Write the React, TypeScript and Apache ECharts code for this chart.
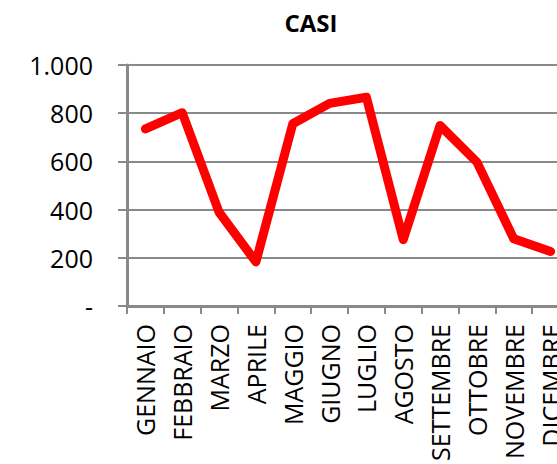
import React, { useEffect, useRef } from "react";
import * as echarts from "echarts";

const categories = [
  "GENNAIO", "FEBBRAIO", "MARZO", "APRILE", "MAGGIO", "GIUGNO",
  "LUGLIO", "AGOSTO", "SETTEMBRE", "OTTOBRE", "NOVEMBRE", "DICEMBRE",
];
const casi = [735, 802, 389, 183, 756, 841, 866, 275, 749, 597, 279, 226];
const yTicks = [0, 200, 400, 600, 800, 1000];
const yTickLabels = ["-", "200", "400", "600", "800", "1.000"];

export default function App() {
  const ref = useRef<HTMLDivElement>(null);
  useEffect(() => {
    document.body.style.margin = "0";
    const chart = echarts.init(ref.current!, null, { renderer: "svg" });
    const font = "'Open Sans', sans-serif";
    chart.setOption({
      animation: false,
      backgroundColor: "#ffffff",
      title: {
        text: "CASI",
        left: 311,
        textAlign: "center",
        top: 10,
        padding: 0,
        textStyle: { fontFamily: font, fontWeight: "bold", fontSize: 24, color: "#000" },
      },
      grid: {
        left: 127, top: 65, width: 442, height: 241,
        containLabel: false, outerBoundsMode: "none",
      },
      xAxis: {
        type: "category",
        data: categories,
        boundaryGap: true,
        axisLine: { lineStyle: { color: "#898989", width: 3 } },
        axisTick: { show: true, alignWithLabel: false, length: 8, lineStyle: { color: "#898989", width: 2 } },
        axisLabel: {
          rotate: 90,
          interval: 0,
          margin: 18,
          fontFamily: font,
          fontSize: 25,
          color: "#000",
        },
        splitLine: { show: false },
      },
      yAxis: {
        type: "value",
        min: 0,
        max: 1000,
        interval: 200,
        axisLine: { show: true, lineStyle: { color: "#898989", width: 3 } },
        axisTick: { show: true, length: 9, lineStyle: { color: "#898989", width: 2 } },
        axisLabel: {
          margin: 34,
          fontFamily: font,
          fontSize: 25,
          color: "#000",
          formatter: (v: number) => yTickLabels[yTicks.indexOf(v)] ?? String(v),
        },
        splitLine: { show: true, lineStyle: { color: "#898989", width: 2 } },
      },
      series: [
        {
          type: "line",
          data: casi,
          symbol: "none",
          lineStyle: { color: "#ff0000", width: 9, cap: "round", join: "round" },
          itemStyle: { color: "#ff0000" },
        },
      ],
    });
    return () => chart.dispose();
  }, []);
  return <div ref={ref} style={{ width: 557, height: 464 }} />;
}
